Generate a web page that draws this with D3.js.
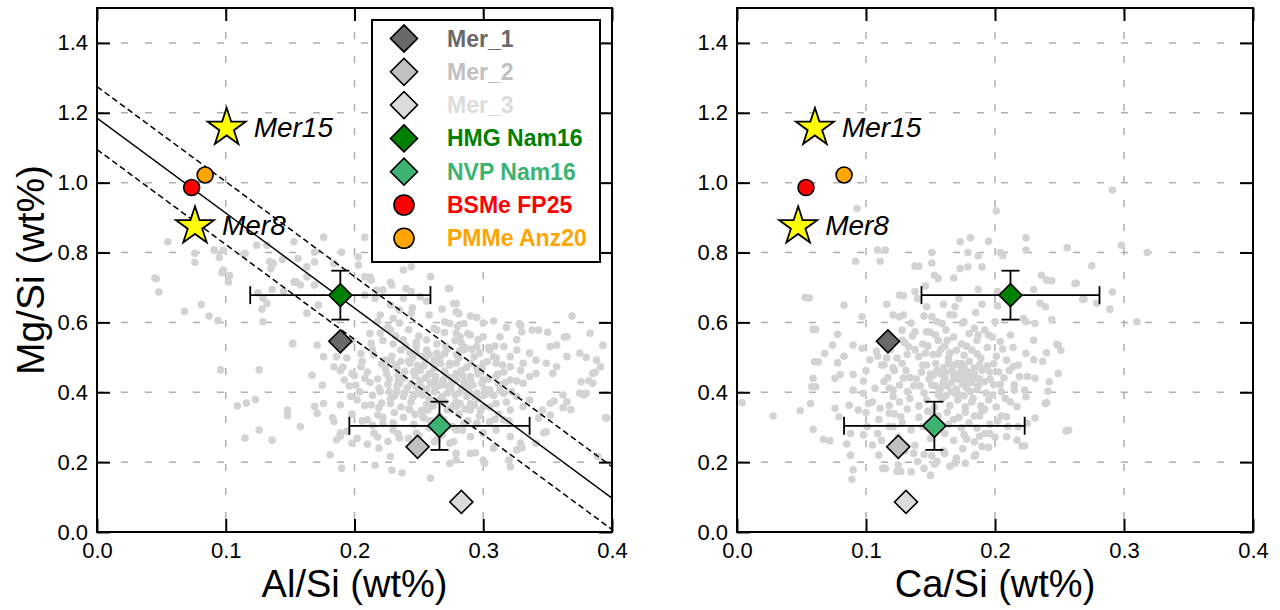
<!DOCTYPE html>
<html>
<head>
<meta charset="utf-8">
<script src="https://cdn.jsdelivr.net/npm/d3@7"></script>
<style>
  body { margin: 0; background: #fff; }
  svg { display: block; font-family: "Liberation Sans", Arial, sans-serif; }
</style>
</head>
<body>
<svg id="chart" width="1280" height="610"></svg>
<script>
// ---- data ----
const xTicks = [0, 0.1, 0.2, 0.3, 0.4];
const yTicks = [0, 0.2, 0.4, 0.6, 0.8, 1.0, 1.2, 1.4];

// Mercury surface samples (diamonds)
const merNames = ['Mer_1', 'Mer_2', 'Mer_3'];
const merColors = ['#696969', '#c0c0c0', '#dcdcdc'];
const merAlSi = [0.189, 0.249, 0.283];
const merCaSi = [0.117, 0.125, 0.131];
const merMgSi = [0.546, 0.244, 0.086];

// Nam16 regions with error bars
const namNames = ['HMG Nam16', 'NVP Nam16'];
const namColors = ['#008000', '#3cb371'];
const namAlSi = [0.189, 0.266];
const namAlSiErr = [0.07, 0.07];
const namCaSi = [0.212, 0.153];
const namCaSiErr = [0.069, 0.07];
const namMgSi = [0.678, 0.304];
const namMgSiErr = [0.07, 0.069];

// meteorites (circles)
const metNames = ['BSMe FP25', 'PMMe Anz20'];
const metColors = ['#ff0000', '#ffa500'];
const metAlSi = [0.0735, 0.084];
const metCaSi = [0.0535, 0.083];
const metMgSi = [0.986, 1.022];

// model stars
const starNames = ['Mer15', 'Mer8'];
const starAlSi = [0.1007, 0.0761];
const starCaSi = [0.0604, 0.0474];
const starMgSi = [1.157, 0.875];

// linear fit in the Al/Si panel: intercept, slope, band offsets
const fitCoef = [1.185, -2.72];
const fitOffsets = [-0.09, 0, 0.09];

// background measurements [x, Mg/Si]
const bgAlMg = [
  [0.055,0.831],[0.076,0.772],[0.046,0.725],[0.048,0.687],[0.068,0.631],[0.081,0.651],[0.087,0.618],[0.094,0.605],
  [0.091,0.807],[0.098,0.806],[0.095,0.786],[0.098,0.750],[0.097,0.742],[0.103,0.734],[0.102,0.716],[0.096,0.464],
  [0.126,0.464],[0.109,0.361],[0.116,0.369],[0.123,0.379],[0.115,0.269],[0.126,0.292],[0.136,0.263],[0.148,0.349],
  [0.148,0.333],[0.152,0.538],[0.129,0.602],[0.128,0.638],[0.132,0.654],[0.129,0.669],[0.125,0.685],[0.136,0.694],
  [0.124,0.821],[0.134,0.774],[0.135,0.754],[0.144,0.780],[0.153,0.831],[0.114,0.795],[0.153,0.716],[0.145,0.690],
  [0.045,0.727],[0.076,0.798],[0.115,0.798],[0.132,0.821],[0.156,0.783],[0.169,0.801],[0.176,0.844],[0.190,0.801],
  [0.203,0.787],[0.208,0.844],[0.184,0.769],[0.137,0.769],[0.155,0.715],[0.163,0.730],[0.212,0.730],[0.228,0.715],
  [0.217,0.692],[0.169,0.773],[0.163,0.759],[0.203,0.764],[0.208,0.731],[0.213,0.721],[0.238,0.750],[0.244,0.759],
  [0.259,0.731],[0.229,0.707],[0.240,0.697],[0.244,0.688],[0.251,0.673],[0.238,0.669],[0.228,0.650],[0.220,0.621],
  [0.230,0.611],[0.235,0.635],[0.244,0.626],[0.222,0.693],[0.216,0.669],[0.208,0.678],[0.158,0.707],[0.154,0.717],
  [0.169,0.707],[0.172,0.650],[0.163,0.626],[0.152,0.540],[0.171,0.535],[0.167,0.449],[0.176,0.502],[0.175,0.420],
  [0.184,0.473],[0.186,0.502],[0.192,0.435],[0.198,0.454],[0.201,0.420],[0.208,0.440],[0.197,0.388],[0.189,0.364],
  [0.176,0.368],[0.169,0.359],[0.171,0.340],[0.158,0.302],[0.184,0.316],[0.189,0.283],[0.186,0.264],[0.198,0.254],
  [0.181,0.221],[0.190,0.182],[0.216,0.191],[0.229,0.177],[0.210,0.321],[0.218,0.335],[0.213,0.364],[0.228,0.216],
  [0.219,0.240],[0.235,0.269],[0.259,0.154],[0.274,0.196],[0.279,0.206],[0.215,0.507],[0.224,0.468],[0.228,0.492],
  [0.235,0.426],[0.220,0.402],[0.205,0.473],[0.213,0.540],[0.205,0.511],[0.220,0.569],[0.228,0.578],[0.238,0.550],
  [0.248,0.531],[0.256,0.550],[0.264,0.578],[0.274,0.597],[0.277,0.654],[0.273,0.697],[0.279,0.569],[0.243,0.483],
  [0.253,0.502],[0.264,0.512],[0.274,0.483],[0.238,0.388],[0.248,0.416],[0.259,0.454],[0.269,0.435],[0.279,0.454],
  [0.228,0.368],[0.243,0.350],[0.253,0.330],[0.272,0.350],[0.279,0.292],[0.248,0.283],[0.230,0.292],[0.222,0.311],
  [0.215,0.283],[0.264,0.264],[0.274,0.254],
  [0.274,0.697],[0.279,0.654],[0.279,0.630],[0.285,0.597],[0.295,0.614],[0.308,0.604],[0.318,0.586],[0.329,0.592],
  [0.338,0.578],[0.343,0.578],[0.330,0.573],[0.369,0.618],[0.365,0.559],[0.383,0.569],[0.393,0.535],[0.352,0.531],
  [0.357,0.535],[0.375,0.512],[0.365,0.502],[0.388,0.492],[0.391,0.473],[0.385,0.454],[0.376,0.430],[0.385,0.426],
  [0.380,0.397],[0.375,0.397],[0.362,0.392],[0.365,0.373],[0.354,0.454],[0.357,0.473],[0.349,0.483],[0.341,0.454],
  [0.352,0.368],[0.346,0.349],[0.352,0.335],[0.343,0.326],[0.349,0.287],[0.396,0.326],[0.389,0.216],[0.341,0.254],
  [0.321,0.187],[0.320,0.206],[0.326,0.235],[0.329,0.254],[0.308,0.240],[0.300,0.206],[0.290,0.225],[0.279,0.225],
  [0.277,0.259],[0.290,0.273],[0.300,0.283],[0.310,0.292],[0.321,0.273],[0.316,0.321],[0.305,0.316],[0.295,0.311],
  [0.285,0.311],[0.279,0.359],[0.290,0.368],[0.300,0.359],[0.310,0.368],[0.321,0.349],[0.331,0.359],[0.336,0.378],
  [0.326,0.388],[0.316,0.397],[0.305,0.407],[0.295,0.397],[0.285,0.407],[0.279,0.435],[0.290,0.445],[0.300,0.435],
  [0.310,0.445],[0.321,0.435],[0.331,0.426],[0.336,0.445],[0.341,0.492],[0.331,0.483],[0.321,0.473],[0.310,0.483],
  [0.300,0.483],[0.290,0.483],[0.279,0.483],[0.285,0.521],[0.295,0.531],[0.305,0.521],[0.316,0.531],[0.326,0.521],
  [0.336,0.512],[0.326,0.550],[0.313,0.559],[0.300,0.559],[0.290,0.564],[0.282,0.559],[0.321,0.502],[0.308,0.502],
  [0.189,0.462],[0.183,0.327],[0.189,0.275],[0.237,0.169],[0.301,0.197],[0.294,0.227],[0.362,0.356],[0.368,0.350],
  [0.355,0.375],[0.387,0.457],[0.382,0.433],[0.395,0.327],[0.393,0.534],[0.380,0.500],[0.363,0.558],[0.350,0.572],
  [0.328,0.596],[0.281,0.625],[0.330,0.241],[0.347,0.284],[0.378,0.393],[0.402,0.440],[0.404,0.580],
  [0.225,0.452],[0.233,0.468],[0.238,0.441],[0.246,0.459],[0.251,0.432],[0.256,0.409],[0.263,0.446],[0.268,0.421],
  [0.272,0.398],[0.258,0.382],[0.247,0.393],[0.241,0.412],[0.233,0.402],[0.226,0.423],[0.218,0.438],[0.212,0.428],
  [0.221,0.481],[0.229,0.503],[0.236,0.521],[0.245,0.498],[0.254,0.476],[0.262,0.469],[0.270,0.461],[0.276,0.428],
  [0.283,0.412],[0.287,0.388],[0.292,0.421],[0.296,0.452],[0.287,0.471],[0.281,0.498],[0.272,0.523],[0.264,0.538],
  [0.256,0.521],[0.261,0.361],[0.252,0.348],[0.244,0.372],[0.236,0.358],[0.228,0.382],[0.221,0.369],[0.214,0.391],
  [0.208,0.362],[0.204,0.401],[0.210,0.458],[0.206,0.489],[0.214,0.522],[0.222,0.548],[0.230,0.538],[0.266,0.332],
  [0.274,0.352],[0.282,0.368],[0.290,0.349],[0.296,0.381],[0.301,0.409],[0.304,0.438],[0.299,0.469],[0.293,0.502],
  [0.286,0.528],[0.278,0.548],[0.270,0.571],[0.262,0.583],[0.250,0.561],[0.242,0.579],[0.235,0.598],[0.226,0.587],
  [0.218,0.603],[0.212,0.568],[0.198,0.548],[0.194,0.498],[0.191,0.472],[0.200,0.448],[0.196,0.418],[0.202,0.378],
  [0.198,0.338],[0.206,0.318],[0.214,0.306],[0.222,0.328],[0.230,0.312],[0.238,0.328],[0.246,0.308],[0.254,0.326],
  [0.258,0.298],[0.250,0.276],[0.242,0.268],[0.234,0.281],[0.226,0.259],[0.218,0.272],[0.210,0.251],[0.202,0.268],
  [0.194,0.288],[0.288,0.318],[0.284,0.291],[0.276,0.302],[0.268,0.278],[0.262,0.258],[0.308,0.391],[0.312,0.422],
  [0.316,0.458],[0.310,0.498],[0.304,0.528],[0.296,0.551],[0.288,0.568],[0.280,0.588],[0.300,0.598],[0.290,0.618],
  [0.270,0.602],[0.258,0.621],[0.245,0.642],[0.256,0.661],[0.268,0.638],[0.280,0.628],[0.240,0.532],[0.232,0.561],
  [0.248,0.542],[0.234,0.431],[0.242,0.489],[0.258,0.452],[0.266,0.498],[0.274,0.478],[0.284,0.448],[0.290,0.438],
  [0.278,0.392],[0.270,0.372],[0.262,0.402],[0.250,0.402],[0.244,0.425],[0.255,0.441],[0.265,0.418],[0.275,0.410],
  [0.285,0.430],[0.261,0.482],[0.251,0.462],[0.239,0.460],[0.227,0.438],[0.219,0.412],[0.231,0.389],[0.242,0.352],
  [0.256,0.365],[0.268,0.388],[0.279,0.372],[0.297,0.332],[0.305,0.358],[0.318,0.372],[0.322,0.402],[0.326,0.432],
  [0.312,0.338],[0.320,0.318],[0.232,0.478],[0.248,0.512],[0.258,0.508],[0.270,0.510],[0.282,0.520],
  [0.234,0.448],[0.247,0.447],[0.259,0.428],[0.271,0.448],[0.283,0.462],[0.295,0.468],[0.253,0.392],[0.265,0.376],
  [0.277,0.362],[0.289,0.402],[0.301,0.392],[0.313,0.405],[0.245,0.385],[0.257,0.349],[0.269,0.322],[0.281,0.338],
  [0.293,0.362],[0.243,0.514],[0.255,0.493],[0.267,0.482],[0.279,0.508],[0.291,0.523],[0.303,0.488],[0.315,0.478],
  [0.227,0.402],[0.239,0.398],[0.251,0.418],[0.263,0.433],[0.275,0.442],[0.287,0.418],[0.299,0.426],[0.311,0.452],
  [0.224,0.492],[0.236,0.488],[0.249,0.477],[0.262,0.492],[0.271,0.532],[0.283,0.541],[0.297,0.512],[0.309,0.532],
  [0.219,0.356],[0.231,0.342],[0.247,0.336],[0.259,0.318],[0.271,0.306],[0.286,0.352],[0.298,0.348],[0.309,0.322],
  [0.233,0.418],[0.261,0.422],[0.273,0.418],[0.281,0.398],[0.293,0.388],[0.305,0.398],[0.317,0.428],[0.329,0.462]
];

const bgCaMg = [
  [0.093,0.926],[0.109,0.807],[0.115,0.807],[0.092,0.775],[0.111,0.775],[0.056,0.670],[0.083,0.650],[0.116,0.652],
  [0.129,0.676],[0.121,0.621],[0.129,0.621],[0.097,0.616],[0.061,0.580],[0.078,0.566],[0.090,0.535],[0.074,0.535],
  [0.068,0.511],[0.063,0.487],[0.078,0.484],[0.083,0.503],[0.059,0.440],[0.061,0.416],[0.076,0.440],[0.080,0.451],
  [0.090,0.451],[0.097,0.526],[0.103,0.493],[0.109,0.503],[0.114,0.478],[0.121,0.470],[0.090,0.406],[0.098,0.397],
  [0.107,0.411],[0.114,0.431],[0.121,0.406],[0.129,0.441],[0.004,0.370],[0.028,0.332],[0.049,0.347],[0.059,0.294],
  [0.067,0.265],[0.072,0.261],[0.076,0.354],[0.079,0.330],[0.087,0.363],[0.094,0.349],[0.102,0.368],[0.111,0.354],
  [0.118,0.340],[0.127,0.330],[0.088,0.282],[0.098,0.278],[0.105,0.249],[0.085,0.252],[0.088,0.220],[0.110,0.220],
  [0.115,0.182],[0.127,0.173],[0.090,0.178],[0.089,0.151],[0.101,0.301],[0.109,0.282],[0.121,0.301],
  [0.201,0.919],[0.173,0.831],[0.181,0.842],[0.195,0.832],[0.224,0.842],[0.224,0.807],[0.256,0.814],[0.275,0.762],
  [0.179,0.800],[0.187,0.791],[0.204,0.800],[0.206,0.791],[0.138,0.761],[0.141,0.761],[0.151,0.800],[0.151,0.770],
  [0.173,0.754],[0.179,0.759],[0.190,0.759],[0.153,0.735],[0.156,0.726],[0.146,0.704],[0.138,0.688],[0.126,0.678],
  [0.168,0.727],[0.187,0.694],[0.202,0.647],[0.202,0.688],[0.236,0.735],[0.240,0.721],[0.230,0.694],[0.244,0.719],
  [0.263,0.712],[0.269,0.666],[0.279,0.655],[0.235,0.655],[0.239,0.645],[0.222,0.611],[0.224,0.602],[0.231,0.597],
  [0.244,0.608],[0.212,0.564],[0.230,0.549],[0.248,0.537],[0.240,0.513],[0.251,0.520],[0.224,0.511],[0.230,0.493],
  [0.237,0.489],[0.249,0.454],[0.242,0.430],[0.231,0.440],[0.225,0.445],[0.219,0.445],[0.214,0.473],[0.215,0.406],
  [0.223,0.406],[0.224,0.387],[0.240,0.370],[0.231,0.326],[0.225,0.311],[0.257,0.291],[0.217,0.359],[0.209,0.330],
  [0.218,0.301],[0.209,0.273],[0.217,0.263],[0.223,0.247],[0.195,0.564],[0.204,0.545],[0.187,0.564],[0.184,0.583],
  [0.176,0.602],[0.168,0.621],[0.169,0.645],[0.159,0.597],[0.151,0.616],[0.138,0.573],[0.147,0.573],[0.154,0.564],
  [0.163,0.549],[0.126,0.616],[0.128,0.549],[0.133,0.530],
  [0.137,0.225],[0.151,0.218],[0.153,0.194],[0.161,0.225],[0.169,0.197],[0.177,0.197],[0.184,0.217],[0.178,0.266],
  [0.188,0.274],[0.190,0.245],[0.196,0.282],
  [0.291,0.979],[0.298,0.821],[0.318,0.800],[0.262,0.711],[0.291,0.687],[0.310,0.602],[0.255,0.289],[0.289,0.638],
  [0.268,0.666],[0.113,0.182],[0.124,0.173],[0.221,0.246],[0.239,0.368],[0.241,0.403],[0.249,0.535],[0.053,0.671],
  [0.059,0.580],[0.060,0.487],[0.058,0.416],[0.057,0.368],
  [0.141,0.502],[0.147,0.478],[0.152,0.508],[0.158,0.523],[0.164,0.497],[0.171,0.482],[0.176,0.506],[0.182,0.521],
  [0.189,0.497],[0.194,0.476],[0.201,0.503],[0.206,0.524],[0.209,0.492],[0.143,0.458],[0.149,0.438],[0.155,0.462],
  [0.161,0.441],[0.167,0.463],[0.173,0.437],[0.179,0.458],[0.185,0.442],[0.190,0.462],[0.196,0.437],[0.203,0.458],
  [0.207,0.441],[0.137,0.418],[0.145,0.398],[0.151,0.421],[0.157,0.402],[0.163,0.418],[0.169,0.397],[0.175,0.423],
  [0.181,0.402],[0.187,0.418],[0.193,0.398],[0.199,0.422],[0.205,0.401],[0.134,0.382],[0.141,0.361],[0.147,0.378],
  [0.153,0.357],[0.159,0.382],[0.165,0.362],[0.171,0.378],[0.177,0.358],[0.183,0.382],[0.189,0.361],[0.195,0.378],
  [0.201,0.358],[0.131,0.462],[0.126,0.421],[0.121,0.388],[0.117,0.442],[0.112,0.478],[0.108,0.518],[0.119,0.522],
  [0.124,0.498],[0.130,0.542],[0.136,0.561],[0.144,0.538],[0.150,0.572],[0.156,0.548],[0.162,0.578],[0.168,0.558],
  [0.174,0.538],[0.180,0.568],[0.186,0.548],[0.192,0.578],[0.198,0.558],[0.141,0.328],[0.148,0.312],[0.156,0.332],
  [0.164,0.308],[0.172,0.328],[0.180,0.312],[0.188,0.332],[0.196,0.308],[0.161,0.282],[0.168,0.262],[0.176,0.278],
  [0.184,0.258],[0.192,0.282],[0.150,0.268],[0.135,0.292],[0.128,0.312],[0.122,0.338],[0.118,0.362],[0.160,0.232],
  [0.170,0.212],[0.175,0.238],[0.185,0.222],[0.155,0.202],[0.165,0.188],[0.145,0.222],[0.138,0.248],[0.205,0.332],
  [0.210,0.302],[0.200,0.272],[0.195,0.242],[0.212,0.372],[0.215,0.422],[0.218,0.478],[0.214,0.528],[0.155,0.602],
  [0.165,0.622],[0.175,0.598],[0.185,0.628],[0.145,0.618],[0.135,0.598],[0.128,0.578],[0.160,0.652],[0.172,0.668],
  [0.190,0.652],[0.200,0.602],[0.140,0.668],[0.147,0.645],[0.100,0.462],[0.098,0.432],[0.105,0.372],[0.100,0.342],
  [0.110,0.322],[0.118,0.302],[0.112,0.262],[0.125,0.272],[0.130,0.232],[0.125,0.192],[0.135,0.172],[0.140,0.202],
  [0.150,0.162],[0.145,0.182],[0.158,0.452],[0.166,0.428],[0.172,0.452],[0.178,0.432],[0.170,0.410],[0.162,0.390],
  [0.176,0.390],[0.184,0.470],[0.168,0.478],[0.154,0.482],[0.160,0.470],[0.180,0.440],[0.174,0.466],[0.186,0.408],
  [0.154,0.418],[0.163,0.343],[0.177,0.343],[0.148,0.346],[0.190,0.346],[0.156,0.510],[0.170,0.520],[0.186,0.510],
  [0.160,0.428],[0.168,0.446],[0.176,0.448],[0.182,0.428],[0.172,0.392],[0.158,0.412],[0.166,0.402],[0.178,0.412],
  [0.184,0.452],[0.164,0.482],[0.150,0.452],[0.192,0.430],[0.162,0.458],[0.174,0.482],[0.180,0.488],[0.188,0.478],
  [0.132,0.402],[0.139,0.438],[0.144,0.478],[0.138,0.522],[0.146,0.512],[0.161,0.532],[0.178,0.532],[0.194,0.528],
  [0.199,0.482],[0.211,0.462],[0.204,0.422],[0.208,0.382],[0.198,0.392],[0.192,0.352],[0.184,0.332],[0.168,0.322],
  [0.152,0.338],[0.144,0.302],[0.158,0.298],[0.174,0.298],[0.186,0.298],[0.202,0.318],[0.132,0.352],[0.126,0.372],
  [0.118,0.412],[0.122,0.462],[0.116,0.498],[0.128,0.482],[0.134,0.442],[0.142,0.418],[0.156,0.392],[0.182,0.372],
  [0.196,0.458],[0.188,0.438],[0.170,0.438],[0.152,0.448],[0.176,0.472],[0.165,0.512],[0.148,0.532],[0.132,0.508]
];

// ---- layout ----
const svg = d3.select('#chart');
const plotTop = 8, plotBottom = 532;
const y = d3.scaleLinear().domain([0, 1.5]).range([plotBottom, plotTop]);
const fmt = d3.format('.1f');

const panels = [
  {id: 'al', x0: 97, x1: 612, label: 'Al/Si (wt%)', bg: bgAlMg, mer: merAlSi,
   nam: namAlSi, namErr: namAlSiErr, met: metAlSi, star: starAlSi, fit: true, legend: true},
  {id: 'ca', x0: 737, x1: 1253, label: 'Ca/Si (wt%)', bg: bgCaMg, mer: merCaSi,
   nam: namCaSi, namErr: namCaSiErr, met: metCaSi, star: starCaSi, fit: false, legend: false}
];

function starPath(R) {
  const r = R * 0.382;
  const pts = d3.range(10).map(i => {
    const a = -Math.PI / 2 + i * Math.PI / 5;
    const rad = i % 2 ? r : R;
    return [rad * Math.cos(a), rad * Math.sin(a)];
  });
  return 'M' + pts.join('L') + 'Z';
}

const diamond = s => d3.symbol(d3.symbolSquare, s * s * 2)();

panels.forEach(p => {
  const x = d3.scaleLinear().domain([0, 0.4]).range([p.x0, p.x1]);
  const g = svg.append('g');

  svg.append('clipPath').attr('id', 'clip-' + p.id)
    .append('rect')
    .attr('x', p.x0).attr('y', plotTop)
    .attr('width', p.x1 - p.x0).attr('height', plotBottom - plotTop);

  // grid
  g.selectAll('.gx').data(xTicks.slice(1, -1)).join('line')
    .attr('x1', d => x(d)).attr('x2', d => x(d))
    .attr('y1', plotTop).attr('y2', plotBottom)
    .attr('stroke', '#b0b0b0').attr('stroke-width', 1.5).attr('stroke-dasharray', '7,17');
  g.selectAll('.gy').data(yTicks.slice(1)).join('line')
    .attr('x1', p.x0).attr('x2', p.x1)
    .attr('y1', d => y(d)).attr('y2', d => y(d))
    .attr('stroke', '#b0b0b0').attr('stroke-width', 1.5).attr('stroke-dasharray', '7,17');

  const inner = g.append('g').attr('clip-path', `url(#clip-${p.id})`);

  // background dots
  inner.selectAll('circle.bg').data(p.bg).join('circle')
    .attr('class', 'bg')
    .attr('cx', d => x(d[0])).attr('cy', d => y(d[1]))
    .attr('r', 3.8).attr('fill', '#d3d3d3');

  // fit lines
  if (p.fit) {
    const line = d3.line().x(d => x(d[0])).y(d => y(d[1]));
    fitOffsets.forEach(off => {
      const pts = x.domain().map(v => [v, fitCoef[0] + off + fitCoef[1] * v]);
      inner.append('path').attr('d', line(pts))
        .attr('fill', 'none').attr('stroke', '#000').attr('stroke-width', 1.5)
        .attr('stroke-dasharray', off === 0 ? null : '6,3.5');
    });
  }

  // error bars
  const cap = 9;
  namNames.forEach((n, i) => {
    const cx = x(p.nam[i]), cy = y(namMgSi[i]);
    const xl = x(p.nam[i] - p.namErr[i]), xr = x(p.nam[i] + p.namErr[i]);
    const yt = y(namMgSi[i] + namMgSiErr[i]), yb = y(namMgSi[i] - namMgSiErr[i]);
    const eb = inner.append('g').attr('stroke', '#000').attr('stroke-width', 1.8);
    eb.append('line').attr('x1', xl).attr('x2', xr).attr('y1', cy).attr('y2', cy);
    eb.append('line').attr('x1', cx).attr('x2', cx).attr('y1', yt).attr('y2', yb);
    [xl, xr].forEach(v => eb.append('line').attr('x1', v).attr('x2', v).attr('y1', cy - cap).attr('y2', cy + cap));
    [yt, yb].forEach(v => eb.append('line').attr('x1', cx - cap).attr('x2', cx + cap).attr('y1', v).attr('y2', v));
  });

  // diamonds
  merNames.forEach((n, i) => {
    inner.append('path').attr('d', diamond(11.5))
      .attr('transform', `translate(${x(p.mer[i])},${y(merMgSi[i])}) rotate(45)`)
      .attr('fill', merColors[i]).attr('stroke', '#000').attr('stroke-width', 1.6);
  });
  namNames.forEach((n, i) => {
    inner.append('path').attr('d', diamond(11.5))
      .attr('transform', `translate(${x(p.nam[i])},${y(namMgSi[i])}) rotate(45)`)
      .attr('fill', namColors[i]).attr('stroke', '#000').attr('stroke-width', 1.6);
  });

  // meteorites
  metNames.forEach((n, i) => {
    inner.append('circle')
      .attr('cx', x(p.met[i])).attr('cy', y(metMgSi[i])).attr('r', 8)
      .attr('fill', metColors[i]).attr('stroke', '#000').attr('stroke-width', 1.6);
  });

  // stars + labels
  starNames.forEach((n, i) => {
    const cx = x(p.star[i]), cy = y(starMgSi[i]);
    inner.append('path').attr('d', starPath(20))
      .attr('transform', `translate(${cx},${cy})`)
      .attr('fill', '#ffff00').attr('stroke', '#000').attr('stroke-width', 1.8)
      .attr('stroke-linejoin', 'miter');
    g.append('text').attr('x', cx + 27).attr('y', cy + 9)
      .attr('font-size', 28).attr('font-style', 'italic').text(n);
  });

  // axes with inward ticks on all sides
  const styleAxis = a => {
    a.attr('font-size', 22).attr('font-family', null);
    a.select('.domain').remove();
    a.selectAll('.tick line').attr('stroke', '#000').attr('stroke-width', 2);
    a.selectAll('.tick text').attr('fill', '#000');
  };
  g.append('g').attr('transform', `translate(0,${plotBottom})`)
    .call(d3.axisBottom(x).tickValues(xTicks).tickSize(-13).tickPadding(10).tickFormat(fmt))
    .call(styleAxis);
  g.append('g').attr('transform', `translate(0,${plotTop})`)
    .call(d3.axisTop(x).tickValues(xTicks).tickSize(-13).tickFormat(''))
    .call(styleAxis);
  g.append('g').attr('transform', `translate(${p.x0},0)`)
    .call(d3.axisLeft(y).tickValues(yTicks).tickSize(-13).tickPadding(9).tickFormat(fmt))
    .call(styleAxis);
  g.append('g').attr('transform', `translate(${p.x1},0)`)
    .call(d3.axisRight(y).tickValues(yTicks).tickSize(-13).tickFormat(''))
    .call(styleAxis);

  g.append('rect')
    .attr('x', p.x0).attr('y', plotTop)
    .attr('width', p.x1 - p.x0).attr('height', plotBottom - plotTop)
    .attr('fill', 'none').attr('stroke', '#000').attr('stroke-width', 2);

  // axis labels
  g.append('text').attr('x', (p.x0 + p.x1) / 2).attr('y', 597)
    .attr('text-anchor', 'middle').attr('font-size', 38).text(p.label);
  if (p.id === 'al') {
    g.append('text')
      .attr('transform', `translate(44,${(plotTop + plotBottom) / 2}) rotate(-90)`)
      .attr('text-anchor', 'middle').attr('font-size', 39).text('Mg/Si (wt%)');
  }

  // legend
  if (p.legend) {
    const lg = g.append('g');
    lg.append('rect').attr('x', 372).attr('y', 20).attr('width', 228).attr('height', 242)
      .attr('fill', '#fff').attr('stroke', '#000').attr('stroke-width', 2);
    const entries = [
      ...merNames.map((n, i) => ({name: n, color: merColors[i], shape: 'd'})),
      ...namNames.map((n, i) => ({name: n, color: namColors[i], shape: 'd'})),
      ...metNames.map((n, i) => ({name: n, color: metColors[i], shape: 'c'}))
    ];
    entries.forEach((e, i) => {
      const ry = 38.5 + i * 33.3;
      if (e.shape === 'd') {
        lg.append('path').attr('d', diamond(13.5))
          .attr('transform', `translate(404,${ry}) rotate(45)`)
          .attr('fill', e.color).attr('stroke', '#000').attr('stroke-width', 1.6);
      } else {
        lg.append('circle').attr('cx', 404).attr('cy', ry).attr('r', 10)
          .attr('fill', e.color).attr('stroke', '#000').attr('stroke-width', 1.6);
      }
      lg.append('text').attr('x', 447).attr('y', ry + 8)
        .attr('font-size', 23).attr('font-weight', 'bold').attr('fill', e.color).text(e.name);
    });
  }
});
</script>
</body>
</html>
